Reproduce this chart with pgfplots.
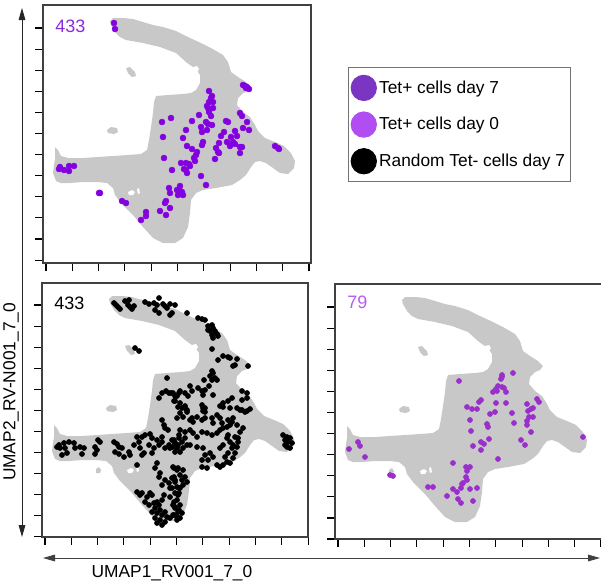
\documentclass[border=0pt]{standalone}
\usepackage{fontspec}
\setmainfont{Liberation Sans}
\usepackage{pgfplots}
\pgfplotsset{compat=1.18}
\usetikzlibrary{arrows.meta}

\definecolor{umapgray}{HTML}{C8C8C8}
\definecolor{tetseven}{HTML}{8300E0}
\definecolor{tetsevenlab}{HTML}{8A2BE2}
\definecolor{tetsevenleg}{HTML}{7A35C2}
\definecolor{tetzero}{HTML}{9A2FCB}
\definecolor{tetzerolab}{HTML}{B65CEE}
\definecolor{tetzeroleg}{HTML}{B04EF2}

% UMAP embedding outline, in panel pixels (origin top left of each panel)
\newcommand{\umapbg}{%
  \addplot[fill=umapgray, draw=none, forget plot] coordinates {
    (67,16) (70,13) (80,13) (90,14) (100,17) (110,20) (120,22) (133,26) (145,32)
    (158,38) (168,43) (180,50) (185,57) (188,67) (195,72) (203,77) (208,82) (205,86)
    (200,88) (195,93) (194,100) (200,107) (207,112) (212,120) (215,126) (222,133)
    (232,137) (241,141) (248,148) (252,156) (251,163) (245,169) (237,168) (230,163)
    (223,158) (217,156) (212,157) (208,162) (203,170) (197,175) (189,180) (173,183)
    (160,185) (153,188) (148,195) (147,208) (145,222) (140,233) (132,238) (120,238)
    (110,233) (100,222) (90,210) (78,198) (72,190) (70,183) (64,178) (54,177) (40,177)
    (27,178) (18,178) (13,176) (10,168) (11,160) (12,154) (12,147) (12,142) (15,145)
    (18,151) (25,153) (40,153) (55,152) (70,151) (85,150) (98,149) (104,145) (106,135)
    (108,122) (110,108) (111,97) (113,91) (125,90) (140,89) (148,88) (153,85) (157,78)
    (157,70) (153,64) (147,60) (143,57) (133,48) (117,42) (100,38) (83,35) (77,32)
    (72,27) (68,20)};
  \addplot[fill=umapgray, draw=none, forget plot] coordinates {(83,63) (87,62) (92,67) (93,71) (89,72) (85,68)};
  \addplot[fill=umapgray, draw=none, forget plot] coordinates {(64,125) (68,122) (74,123) (75,127) (71,129) (65,128)};
  \addplot[fill=umapgray, draw=none, forget plot] coordinates {(54,186) (57,184) (59,187) (58,190) (54,190)};
  \addplot[fill=white, draw=none, forget plot] coordinates {(150,62) (154,61) (156,64) (154,67) (150,66)};
  \addplot[fill=white, draw=none, forget plot] coordinates {(85,187) (89,185) (92,187) (90,190) (86,190)};
  \addplot[fill=white, draw=none, forget plot] coordinates {(94,184) (96,183) (97,188) (95,189)};
}

\pgfplotsset{umap/.style={
  scale only axis, y dir=reverse, xmin=0, ymin=0,
  xtick={3,29.3,55.6,81.9,108.2,134.5,160.8,187.1,213.4,239.7,266},
  xticklabels={}, yticklabels={},
  tick align=outside, xtick pos=left, ytick pos=left,
  major tick length=6pt, tick style={black, line width=0.8pt},
  axis line style={black!75, line width=0.9pt}, clip=false}}

\begin{document}
\begin{tikzpicture}
\useasboundingbox (0,0) rectangle (450.75pt,-439.5pt);

% top left: Tet+ day 7
\begin{axis}[umap, at={(32.25pt,-3.75pt)}, anchor=north west,
  width=201pt, height=193.5pt, xmax=268, ymax=258,
  ytick={23,44.1,65.2,86.3,107.4,128.5,149.6,170.7,191.8,212.9,234,255.1},
  legend cell align=left,
  legend style={at={(1.138,0.758)}, anchor=north west, draw=black!55,
    line width=0.7pt, font=\fontsize{13}{15.6}\selectfont,
    row sep=8.5pt, inner xsep=2pt, inner ysep=5.5pt}]
\umapbg
\addplot[only marks, mark=*, mark size=2.2pt, color=tetseven, forget plot] coordinates {
(71,18) (72,24) (200,80) (202,81) (204,82) (206,84) (203,83) (166,86) (169,91) (168,93)
(166,97) (170,97) (164,101) (165,103) (170,103) (166,107) (168,111) (156,110) (128,113)
(119,117) (149,116) (163,117) (165,119) (169,120) (183,116) (185,117) (197,108) (199,111)
(204,117) (143,125) (158,122) (164,125) (159,127) (181,127) (192,126) (200,123) (206,125)
(178,131) (120,132) (140,133) (188,132) (194,131) (160,137) (159,140) (184,137) (190,137)
(192,139) (187,141) (197,142) (199,142) (176,138) (144,141) (149,144) (154,147) (173,143)
(175,147) (176,148) (153,150) (151,153) (152,156) (197,148) (232,141) (235,143) (236,144)
(121,153) (172,154) (138,158) (143,158) (146,159) (147,161) (129,165) (141,164) (143,165)
(144,168) (158,171) (163,180) (137,181) (126,183) (127,188) (134,185) (137,186) (139,187)
(136,188) (140,190) (135,190) (123,196) (122,198) (127,203) (117,206) (103,207) (103,211)
(98,215) (123,210) (79,196) (83,198) (56,188) (57,188) (16,164) (17,162) (21,165) (26,161)
(26,166) (31,161)};
\addlegendimage{only marks, mark=*, mark size=9.5pt, color=tetsevenleg}
\addlegendentry{Tet+ cells day 7}
\addlegendimage{only marks, mark=*, mark size=9.5pt, color=tetzeroleg}
\addlegendentry{Tet+ cells day 0}
\addlegendimage{only marks, mark=*, mark size=9.5pt, color=black}
\addlegendentry{Random Tet- cells day 7}
\node[anchor=base west, inner sep=0, text=tetsevenlab, font=\fontsize{13.5}{16}\selectfont] at (axis cs:12,27) {433};
\end{axis}

% bottom left: random Tet- day 7
\begin{axis}[umap, at={(31.5pt,-212.25pt)}, anchor=north west,
  width=199.5pt, height=190.5pt, xmax=266, ymax=254,
  ytick={22,43.05,64.1,85.15,106.2,127.25,148.3,169.35,190.4,211.45,232.5,253.5}]
\umapbg
\addplot[only marks, mark=*, mark size=1.9pt, color=black] coordinates {
(72,20) (74,22) (76,24) (78,26) (83,18) (87,17) (86,22) (88,24) (92,23) (90,26) (103,19)
(107,21) (112,20) (117,15) (115,22) (121,21) (123,23) (125,25) (128,21) (128,32) (113,27)
(117,30) (133,22) (93,65) (97,68) (125,95) (120,110) (124,108) (127,110) (129,110) (133,113)
(137,110) (132,118) (138,120) (117,115)
(130,30) (145,30) (156,35) (160,36) (163,37) (166,43) (170,42) (171,45) (168,48) (173,48)
(175,51) (176,53) (170,52) (171,55) (166,47) (170,66) (181,73) (186,74) (188,75) (176,77)
(195,76) (193,82) (191,83) (206,83) (170,88) (171,90) (168,93) (173,95) (175,97) (170,97)
(162,97) (167,103) (156,105) (160,108) (163,107) (161,112) (171,112) (148,103) (150,108)
(146,113) (143,110) (131,110) (135,113) (133,118) (138,108) (200,108) (205,110) (186,118)
(181,120) (178,123) (190,115) (200,117) (205,115) (143,123) (145,127) (140,125) (160,122)
(163,125) (161,128) (195,125) (200,127) (205,128)
(15,164) (18,165) (17,162) (22,160) (23,165) (25,170) (20,172) (27,159) (32,160) (33,165)
(38,164) (42,165) (40,171) (53,164) (55,167) (53,171) (56,157) (58,159) (72,159) (75,161)
(77,164) (73,169) (77,171) (80,165) (82,174) (87,169) (88,172) (92,162) (95,154) (97,159)
(98,165) (100,172) (102,170) (100,154) (103,152) (108,151) (110,155) (115,157) (107,162)
(112,165) (110,170) (117,162) (120,137) (122,142) (123,145) (126,147) (120,154) (120,159)
(127,162) (123,165) (128,165) (132,157) (133,160) (135,164) (137,152) (137,155) (133,169)
(95,182) (115,180) (113,185) (118,190) (117,194) (123,197) (120,202) (127,200) (132,185)
(135,187) (132,194) (133,197) (128,205) (137,205) (137,210)
(95,209) (98,212) (100,210) (105,214) (108,210) (110,212) (103,219) (107,222) (112,220)
(115,219) (117,222) (113,225) (118,227) (110,229) (115,230) (120,232) (123,229) (125,234)
(128,235) (132,232) (135,237) (120,217) (122,212) (132,219) (133,224) (137,227) (113,235)
(118,237) (123,239) (115,240) (120,242)
(136,124) (143,125) (161,125) (163,129) (181,124) (188,125) (198,127) (203,129) (208,126)
(138,130) (145,129) (135,135) (141,134) (148,137) (150,135) (151,139) (155,134) (160,137)
(163,135) (170,135) (171,140) (175,132) (178,135) (180,140) (186,137) (190,139) (191,135)
(185,144) (188,142) (181,145) (195,142) (198,149) (201,145) (196,155) (193,154) (138,147)
(143,149) (148,147) (151,150) (155,154) (160,149) (165,150) (170,152) (175,150) (178,147)
(130,157) (133,160) (136,162) (140,159) (143,155) (131,164) (135,165) (141,165) (138,169)
(145,162) (148,162) (155,164) (161,165) (163,172) (168,170) (171,174) (160,177) (166,177)
(175,182) (178,184) (181,182) (185,179) (188,180) (183,174) (186,170) (190,165) (191,162)
(188,159) (185,155) (186,152) (181,162) (178,165) (195,164) (196,159) (193,170) (191,175)
(160,184) (165,185)
(241,152) (245,154) (248,155) (243,157) (246,159) (250,160) (245,164) (248,165) (243,162)
(131,184) (136,185) (141,187) (138,192) (143,194) (140,197) (145,199) (135,204) (138,205)
(141,202) (133,210) (136,212) (135,217) (138,222) (133,225) (136,229) (131,232) (135,234)
(140,230) (138,235) (131,222) (130,205) (128,214) (130,195) (133,199)};
\node[anchor=base west, inner sep=0, text=black, font=\fontsize{13.5}{16}\selectfont] at (axis cs:12,26) {433};
\end{axis}

% bottom right: Tet+ day 0
\begin{axis}[umap, at={(251.25pt,-213pt)}, anchor=north west,
  width=201pt, height=191.25pt, xmax=268, ymax=255,
  ytick={23,44.1,65.2,86.3,107.4,128.5,149.6,170.7,191.8,212.9,234,255}]
\umapbg
\addplot[only marks, mark=*, mark size=1.9pt, color=tetzero] coordinates {
(178,89) (167,91) (167,93) (166,95) (124,97) (163,102) (167,103) (169,104) (161,105)
(158,108) (162,107) (171,108) (146,116) (144,118) (171,119) (161,119) (202,115) (204,118)
(192,120) (196,125) (198,124) (193,127) (132,123) (137,125) (142,125) (160,128) (155,130)
(177,129) (198,133) (194,133) (192,137) (135,136) (152,140) (153,143) (179,139) (192,141)
(136,147) (196,148) (154,155) (146,158) (149,160) (138,162) (146,166) (186,156) (190,161)
(163,175) (248,153) (14,165) (23,158) (25,162) (30,173) (55,191) (58,192) (118,179)
(131,183) (135,183) (132,187) (131,193) (132,196) (128,199) (127,200) (126,204) (118,205)
(122,208) (135,205) (142,204) (112,212) (123,215) (126,219) (138,217) (93,203) (98,203)};
\node[anchor=base west, inner sep=0, text=tetzerolab, font=\fontsize{13.5}{16}\selectfont] at (axis cs:12,24) {79};
\end{axis}

% shared axis arrows and titles
\draw[black!85, line width=0.7pt, {Triangle[length=9pt,width=5pt]}-{Triangle[length=9pt,width=5pt]}]
  (16.5pt,-6pt) -- (16.5pt,-402.75pt);
\draw[black!75, line width=0.7pt, {Triangle[length=9pt,width=5pt]}-{Triangle[length=9pt,width=5pt]}]
  (32.25pt,-418.5pt) -- (450pt,-418.5pt);
\node[rotate=90, font=\fontsize{13}{15}\selectfont] at (8.25pt,-294pt) {UMAP2\_RV-N001\_7\_0};
\node[font=\fontsize{13}{15}\selectfont] at (129pt,-429.75pt) {UMAP1\_RV001\_7\_0};
\end{tikzpicture}
\end{document}
